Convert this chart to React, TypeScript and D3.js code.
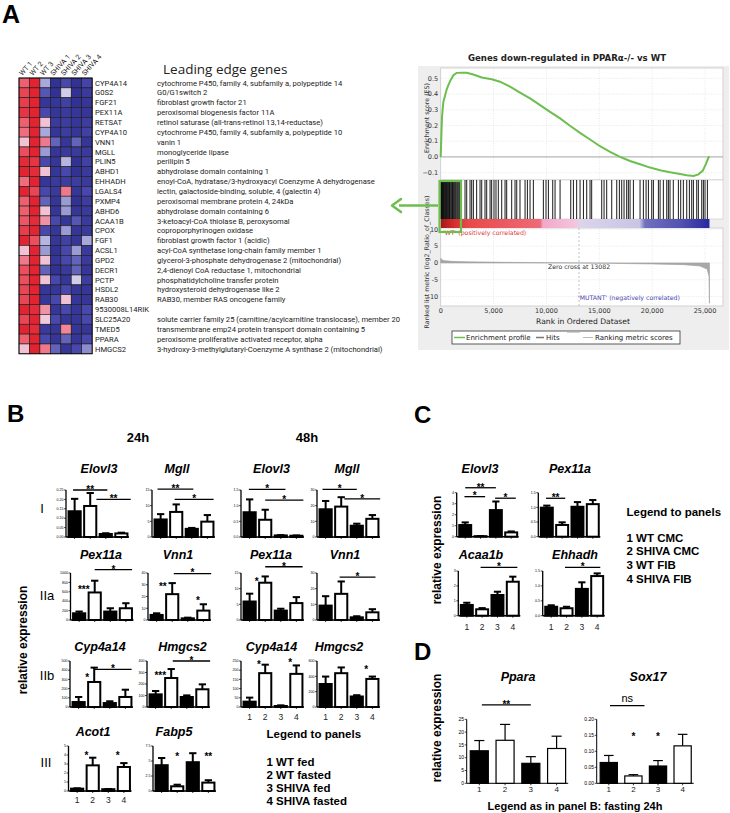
import React from "react";
import * as d3 from "d3";

const SANS = "'Liberation Sans', Arial, sans-serif";
const HEAT_FONT = "Roboto, 'Open Sans', sans-serif";
const GREEN = "#6cbf4e";

// ---------------- Panel A: heatmap ----------------
const samples = ["WT 1", "WT 2", "WT 3", "SHIVA 1", "SHIVA 2", "SHIVA 3", "SHIVA 4"];
const genes = [
  "CYP4A14", "G0S2", "FGF21", "PEX11A", "RETSAT", "CYP4A10", "VNN1", "MGLL", "PLIN5", "ABHD1",
  "EHHADH", "LGALS4", "PXMP4", "ABHD6", "ACAA1B", "CPOX", "FGF1", "ACSL1", "GPD2", "DECR1",
  "PCTP", "HSDL2", "RAB30", "9530008L14RIK", "SLC25A20", "TMED5", "PPARA", "HMGCS2",
];
const geneDescriptions = [
  "cytochrome P450, family 4, subfamily a, polypeptide 14",
  "G0/G1switch 2",
  "fibroblast growth factor 21",
  "peroxisomal biogenesis factor 11A",
  "retinol saturase (all-trans-retinol 13,14-reductase)",
  "cytochrome P450, family 4, subfamily a, polypeptide 10",
  "vanin 1",
  "monoglyceride lipase",
  "perilipin 5",
  "abhydrolase domain containing 1",
  "enoyl-CoA, hydratase/3-hydroxyacyl Coenzyme A dehydrogenase",
  "lectin, galactoside-binding, soluble, 4 (galectin 4)",
  "peroxisomal membrane protein 4, 24kDa",
  "abhydrolase domain containing 6",
  "3-ketoacyl-CoA thiolase B, peroxysomal",
  "coproporphyrinogen oxidase",
  "fibroblast growth factor 1 (acidic)",
  "acyl-CoA synthetase long-chain family member 1",
  "glycerol-3-phosphate dehydrogenase 2 (mitochondrial)",
  "2,4-dienoyl CoA reductase 1, mitochondrial",
  "phosphatidylcholine transfer protein",
  "hydroxysteroid dehydrogenase like 2",
  "RAB30, member RAS oncogene family",
  "",
  "solute carrier family 25 (carnitine/acylcarnitine translocase), member 20",
  "transmembrane emp24 protein transport domain containing 5",
  "peroxisome proliferative activated receptor, alpha",
  "3-hydroxy-3-methylglutaryl-Coenzyme A synthase 2 (mitochondrial)",
];
const heatValues = [
  [0.6, 0.95, -0.25, -0.9, -0.6, -0.9, -0.65],
  [0.75, 0.95, -0.55, -0.9, -0.1, -0.9, -0.8],
  [0.8, 0.95, -0.85, -0.85, -0.7, -0.9, -0.85],
  [0.85, 0.95, -0.6, -0.85, -0.8, -0.85, -0.85],
  [0.6, 0.95, 0.2, -0.8, -0.75, -0.85, -0.75],
  [0.55, 0.95, -0.25, -0.85, -0.75, -0.85, -0.7],
  [0.2, 0.95, 0.5, -0.5, -0.85, -0.5, -0.85],
  [0.7, 0.95, -0.3, -0.85, -0.8, -0.8, -0.8],
  [0.9, 0.85, -0.6, -0.85, -0.2, -0.9, -0.7],
  [0.95, 0.9, 0.2, -0.85, -0.6, -0.9, -0.8],
  [0.55, 0.95, -0.85, -0.8, -0.75, -0.75, -0.8],
  [0.95, 0.75, -0.6, -0.8, 0.5, -0.85, -0.6],
  [0.6, 0.95, -0.5, -0.85, -0.3, -0.9, -0.75],
  [0.6, 0.95, 0.2, -0.85, -0.3, -0.85, -0.8],
  [0.65, 0.9, 0.4, -0.6, -0.85, -0.55, -0.8],
  [0.8, 0.95, -0.6, -0.85, -0.3, -0.85, -0.8],
  [0.95, 0.7, -0.2, -0.85, -0.7, -0.85, -0.25],
  [0.2, 0.95, -0.3, -0.9, -0.6, -0.3, -0.8],
  [0.5, 0.95, 0.2, -0.85, -0.6, -0.5, -0.8],
  [0.7, 0.95, -0.5, -0.9, -0.8, -0.5, -0.85],
  [0.7, 0.95, 0.2, -0.6, -0.85, -0.1, -0.75],
  [0.75, 0.95, -0.85, -0.85, -0.6, -0.85, -0.85],
  [0.75, 0.95, -0.85, -0.6, 0.2, -0.85, -0.85],
  [0.95, 0.9, 0.4, -0.85, -0.6, -0.85, -0.6],
  [0.75, 0.95, 0.15, -0.6, -0.85, -0.85, -0.6],
  [0.95, 0.9, -0.8, -0.85, 0.45, -0.85, -0.85],
  [0.6, 0.95, -0.6, -0.85, -0.5, -0.85, -0.6],
  [0.2, 0.95, 0.5, -0.5, -0.85, -0.6, -0.35],
];

// ---------------- Panel A: GSEA ----------------
const esRanks = [0, 60, 125, 250, 410, 570, 725, 945, 1200, 1510, 1990, 2460, 3090, 3880, 4820, 5610, 6560, 7500, 8450, 9400, 10340, 11290, 12230, 13180, 14125, 15070, 16020, 16960, 17910, 18855, 19800, 20750, 21690, 22640, 23270, 23900, 24370, 24780, 25100, 25320, 25410];
const esScores = [0, 0.13, 0.255, 0.35, 0.39, 0.43, 0.457, 0.49, 0.52, 0.535, 0.536, 0.536, 0.525, 0.506, 0.494, 0.479, 0.447, 0.409, 0.372, 0.33, 0.287, 0.245, 0.198, 0.153, 0.111, 0.068, 0.032, 0.0, -0.026, -0.047, -0.068, -0.085, -0.098, -0.109, -0.117, -0.121, -0.111, -0.089, -0.043, -0.004, 0.004];
const hitRanks = [
  20, 60, 110, 150, 200, 260, 320, 380, 440, 500, 560, 630, 700, 760, 830, 900, 980, 1050, 1120, 1200, 1290, 1380, 1460, 1550, 1630, 1720, 1800, 1880,
  2300, 2460, 2775, 2930, 3090, 3400, 3720, 3880, 4190, 4350, 4670, 4820, 5040, 5230, 5450, 5770, 6085, 6240, 6715, 7030, 7190, 7500, 7980, 8200, 8450, 8765,
  9710, 9960, 10185, 10595, 10815, 11290, 12300, 12550, 12860, 13180, 13500, 13810, 14125, 14280, 15230, 15450, 15700, 16175, 16650, 16900, 17120, 17340,
  17590, 17750, 17910, 18225, 18855, 19170, 19425, 19645, 19960, 20115, 20590, 20750, 21060, 21380, 21535, 21690, 22000, 22480, 22700, 22950, 23270, 23520,
  23740, 23900, 24215, 24370, 24690, 24845, 25000, 25225,
];
const metricRanks = [0, 100, 300, 1000, 2500, 6000, 10000, 13082, 16000, 20000, 23000, 24500, 25200, 25380, 25420];
const metricScores = [1.4, 1.0, 0.7, 0.5, 0.35, 0.2, 0.08, 0, -0.1, -0.3, -0.5, -0.9, -1.8, -4, -12];
const esTicks = [0.5, 0.4, 0.3, 0.2, 0.1, 0.0, -0.1];
const rankTicks = [0, 5000, 10000, 15000, 20000, 25000];
const metricTicks = [10, 5, 0, -5, -10];
const zeroCross = 13082;
const colorBarOffsets = [0, 0.04, 0.1, 0.37, 0.38, 0.5, 0.52, 0.74, 0.76, 0.9, 1];
const colorBarColors = ["#a01818", "#d02828", "#e84848", "#ee6a78", "#f2a8c8", "#f4c4dc", "#dcd4ec", "#c8c4e4", "#7070c0", "#5050b0", "#2828a0"];

// ---------------- Panel B data ----------------
const groups = ["1", "2", "3", "4"];
type Bracket = { from: number; to: number; level: number; label: string };
type Star = { at: number; level: number; label: string };

const bElovl3_24Mean = [0.137, 0.165, 0.016, 0.019];
const bElovl3_24Err = [0.066, 0.069, 0.004, 0.004];
const bElovl3_24Br: Bracket[] = [{ from: 0.9, to: 3.1, level: 0.25, label: "**" }, { from: 2.4, to: 4.6, level: 0.2, label: "**" }];
const bMgll_24Mean = [5.6, 8.0, 2.6, 4.9];
const bMgll_24Err = [1.7, 2.4, 0.3, 2.1];
const bMgll_24Br: Bracket[] = [{ from: 0.8, to: 3.1, level: 15.3, label: "**" }, { from: 1.9, to: 4.4, level: 12, label: "*" }];
const bElovl3_48Mean = [0.79, 0.55, 0.05, 0.04];
const bElovl3_48Err = [0.41, 0.32, 0.01, 0.01];
const bElovl3_48Br: Bracket[] = [{ from: 0.95, to: 3.3, level: 1.52, label: "*" }, { from: 2.0, to: 4.45, level: 1.18, label: "*" }];
const bMgll_48Mean = [17.7, 19.4, 7.2, 11.6];
const bMgll_48Err = [5.3, 6.0, 1.3, 2.4];
const bMgll_48Br: Bracket[] = [{ from: 0.8, to: 3.0, level: 30.4, label: "*" }, { from: 2.2, to: 4.5, level: 24.3, label: "*" }];

const bPex11a_24Mean = [143, 586, 180, 250];
const bPex11a_24Err = [37, 250, 70, 107];
const bPex11a_24Br: Bracket[] = [{ from: 2.0, to: 4.4, level: 1070, label: "*" }];
const bPex11a_24St: Star[] = [{ at: 1.3, level: 660, label: "***" }];
const bVnn1_24Mean = [4.3, 22, 1.4, 8];
const bVnn1_24Err = [1.4, 9.4, 0.6, 5.4];
const bVnn1_24Br: Bracket[] = [{ from: 2.1, to: 4.5, level: 39.5, label: "*" }];
const bVnn1_24St: Star[] = [{ at: 1.4, level: 29, label: "**" }, { at: 3.65, level: 17, label: "*" }];
const bPex11a_48Mean = [5.9, 11.9, 3.0, 5.4];
const bPex11a_48Err = [2.5, 2.0, 0.6, 1.9];
const bPex11a_48Br: Bracket[] = [{ from: 2.0, to: 4.4, level: 17, label: "*" }];
const bPex11a_48St: Star[] = [{ at: 1.45, level: 12.6, label: "*" }];
const bVnn1_48Mean = [9.2, 16.7, 1.7, 4.9];
const bVnn1_48Err = [6.0, 7.9, 0.7, 2.0];
const bVnn1_48Br: Bracket[] = [{ from: 1.9, to: 4.2, level: 27.4, label: "*" }];

const bCyp4a14_24Mean = [54, 272, 43, 109];
const bCyp4a14_24Err = [55, 156, 19, 79];
const bCyp4a14_24Br: Bracket[] = [{ from: 2.0, to: 4.4, level: 410, label: "*" }];
const bCyp4a14_24St: Star[] = [{ at: 1.55, level: 326, label: "*" }];
const bHmgcs2_24Mean = [110, 252, 87, 154];
const bHmgcs2_24Err = [29, 78, 14, 43];
const bHmgcs2_24Br: Bracket[] = [{ from: 2.1, to: 4.5, level: 400, label: "*" }];
const bHmgcs2_24St: Star[] = [{ at: 1.3, level: 281, label: "***" }];
const bCyp4a14_48Mean = [29, 184, 5.5, 180];
const bCyp4a14_48Err = [22, 46, 3.5, 46];
const bCyp4a14_48St: Star[] = [{ at: 1.6, level: 235, label: "*" }, { at: 3.6, level: 243, label: "*" }];
const bHmgcs2_48Mean = [300, 441, 137, 366];
const bHmgcs2_48Err = [97, 75, 17, 31];
const bHmgcs2_48St: Star[] = [{ at: 3.6, level: 500, label: "*" }];

const bAcot1Mean = [0.26, 2.85, 0.2, 2.67];
const bAcot1Err = [0.04, 0.85, 0.02, 0.43];
const bAcot1St: Star[] = [{ at: 1.6, level: 4.0, label: "*" }, { at: 3.6, level: 4.0, label: "*" }];
const bFabp5Mean = [4.3, 0.78, 4.8, 1.4];
const bFabp5Err = [1.2, 0.27, 1.5, 0.4];
const bFabp5St: Star[] = [{ at: 2.0, level: 5.9, label: "*" }, { at: 4.0, level: 5.9, label: "**" }];

const bLegend = ["1 WT fed", "2 WT fasted", "3 SHIVA fed", "4 SHIVA fasted"];

// ---------------- Panel C data ----------------
const cElovl3Mean = [1.06, 0.05, 2.42, 0.39];
const cElovl3Err = [0.24, 0.01, 0.78, 0.09];
const cElovl3Br: Bracket[] = [{ from: 1, to: 3, level: 4.45, label: "**" }, { from: 0.95, to: 2.3, level: 3.64, label: "*" }, { from: 2.95, to: 4.3, level: 3.5, label: "*" }];
const cPex11aMean = [0.99, 0.4, 1.02, 1.11];
const cPex11aErr = [0.07, 0.09, 0.16, 0.14];
const cPex11aBr: Bracket[] = [{ from: 0.95, to: 2.2, level: 1.31, label: "**" }];
const cAcaa1bMean = [0.72, 0.43, 1.39, 2.28];
const cAcaa1bErr = [0.15, 0.08, 0.22, 0.34];
const cAcaa1bBr: Bracket[] = [{ from: 1.9, to: 4.3, level: 3.25, label: "*" }];
const cEhhadhMean = [0.3, 0.25, 0.9, 1.33];
const cEhhadhErr = [0.05, 0.05, 0.22, 0.09];
const cEhhadhBr: Bracket[] = [{ from: 1.9, to: 4.2, level: 1.62, label: "*" }];
const cLegend = ["1 WT CMC", "2 SHIVA CMC", "3 WT FIB", "4 SHIVA FIB"];

// ---------------- Panel D data ----------------
const dPparaMean = [12.7, 16.8, 7.8, 13.6];
const dPparaErr = [4.0, 6.2, 2.6, 4.8];
const dPparaBr: Bracket[] = [{ from: 1.1, to: 3.0, level: 30.6, label: "**" }];
const dSox17Mean = [0.065, 0.023, 0.054, 0.117];
const dSox17Err = [0.022, 0.004, 0.017, 0.036];
const dSox17Br: Bracket[] = [{ from: 1.05, to: 2.45, level: 0.2425, label: "ns" }];
const dSox17St: Star[] = [{ at: 2, level: 0.148, label: "*" }, { at: 3, level: 0.148, label: "*" }];

// ---------------- components ----------------
type PlotProps = {
  x: number; top: number; bottom: number; width: number;
  ymax: number; step: number; mean: number[]; err: number[];
  brackets?: Bracket[]; stars?: Star[]; thin?: boolean;
  xLabelY?: number; tickFont?: number;
};

function BarPlot(p: PlotProps) {
  const thin = !!p.thin;
  const band = d3.scaleBand<string>().domain(groups).range([p.x + 1, p.x + p.width])
    .paddingInner(thin ? 0.3 : 0.22).paddingOuter(0.1);
  const y = d3.scaleLinear().domain([0, p.ymax]).range([p.bottom, p.top]);
  const ticks = d3.range(0, p.ymax + p.step / 2, p.step);
  const fmt = p.step < 0.1 ? d3.format(".2f") : p.step < 1 ? d3.format(".1f") : d3.format("~g");
  const bw = band.bandwidth();
  const center = (g: string) => (band(g) as number) + bw / 2;
  const pos = d3.scaleLinear().domain([1, 4]).range([center("1"), center("4")]);
  const sw = thin ? 1.2 : 2;
  const tf = p.tickFont ?? 3.6;
  const starSize = 10;
  return (
    <g fontFamily={SANS}>
      <line x1={p.x} x2={p.x} y1={p.top} y2={p.bottom} stroke="#000" strokeWidth={thin ? 1 : 1.3} />
      {ticks.map((t) => (
        <g key={"t" + t}>
          <line x1={p.x - 2} x2={p.x} y1={y(t)} y2={y(t)} stroke="#000" strokeWidth={0.7} />
          <text x={p.x - 2.6} y={y(t) + tf * 0.35} fontSize={tf} textAnchor="end">{fmt(t)}</text>
        </g>
      ))}
      <line x1={p.x} x2={p.x + p.width} y1={p.bottom} y2={p.bottom} stroke="#000" strokeWidth={thin ? 1 : 1.5} />
      {groups.map((g) => (
        <line key={"xt" + g} x1={center(g)} x2={center(g)} y1={p.bottom} y2={p.bottom + 2} stroke="#000" strokeWidth={0.8} />
      ))}
      {groups.map((g, i) => {
        const yt = y(p.mean[i]);
        const ye = y(p.mean[i] + p.err[i]);
        const c = center(g);
        const cw = bw * (thin ? 0.28 : 0.3);
        return (
          <g key={"b" + g}>
            <line x1={c} x2={c} y1={yt} y2={ye} stroke="#000" strokeWidth={sw} />
            <line x1={c - cw} x2={c + cw} y1={ye} y2={ye} stroke="#000" strokeWidth={sw} />
            <rect x={band(g)} y={yt} width={bw} height={Math.max(0.5, p.bottom - yt)}
              fill={i % 2 === 0 ? "#000" : "#fff"} stroke="#000" strokeWidth={sw} />
          </g>
        );
      })}
      {(p.brackets || []).map((b, i) => {
        const ly = y(b.level);
        const isNs = b.label === "ns";
        return (
          <g key={"br" + i}>
            <line x1={pos(b.from)} x2={pos(b.to)} y1={ly} y2={ly} stroke="#000" strokeWidth={thin ? 1.2 : 1.3} />
            <text x={(pos(b.from) + pos(b.to)) / 2} y={isNs ? ly - 4 : ly + 2.8} fontSize={isNs ? 11 : starSize}
              fontWeight={isNs ? "normal" : "bold"} textAnchor="middle">{b.label}</text>
          </g>
        );
      })}
      {(p.stars || []).map((s, i) => (
        <text key={"st" + i} x={pos(s.at)} y={y(s.level) + 4} fontSize={starSize} fontWeight="bold" textAnchor="middle">{s.label}</text>
      ))}
      {p.xLabelY !== undefined && groups.map((g) => (
        <text key={"xl" + g} x={center(g)} y={p.xLabelY} fontSize={thin ? 8 : 8.5} textAnchor="middle" fill="#222">{g}</text>
      ))}
    </g>
  );
}

function Heatmap() {
  const x0 = 19, y0 = 78, cw = 10.45, ch = 9.85;
  const xs = d3.scaleBand<string>().domain(samples).range([x0, x0 + samples.length * cw]);
  const ys = d3.scaleBand<string>().domain(genes).range([y0, y0 + genes.length * ch]);
  const color = d3.scaleLinear<string>()
    .domain([-1, -0.6, -0.25, 0, 0.25, 0.6, 1])
    .range(["#2b2b8c", "#4848ac", "#a8a8dc", "#ece6f2", "#f2b8cc", "#ee6070", "#e01a28"]);
  return (
    <g fontFamily={HEAT_FONT}>
      {samples.map((s) => (
        <text key={s} transform={`translate(${(xs(s) as number) + cw / 2 - 2},${y0 - 2}) rotate(-48)`} fontSize={7} fill="#222">{s}</text>
      ))}
      {genes.map((g, r) => samples.map((s, c) => (
        <rect key={g + s} x={xs(s)} y={ys(g)} width={cw} height={ch} fill={color(heatValues[r][c])} stroke="#1a1a1a" strokeWidth={0.6} />
      )))}
      <rect x={x0} y={y0} width={samples.length * cw} height={genes.length * ch} fill="none" stroke="#000" strokeWidth={0.8} />
      {genes.map((g, r) => (
        <g key={"lab" + g}>
          <text x={95} y={(ys(g) as number) + ch / 2 + 2.7} fontSize={7.6} fill="#222">{g}</text>
          <text x={157} y={(ys(g) as number) + ch / 2 + 2.7} fontSize={7.6} fill="#222">{geneDescriptions[r]}</text>
        </g>
      ))}
      <text x={163} y={74} fontSize={13.5} fontFamily="'Open Sans', sans-serif" fill="#222">Leading edge genes</text>
    </g>
  );
}

function Gsea() {
  const left = 440.7, right = 723;
  const esTop = 68, esBot = 180, hitBot = 219, barBot = 228, metBot = 306;
  const xr = d3.scaleLinear().domain([0, 26700]).range([left, right]);
  const yes = d3.scaleLinear().domain([-0.147, 0.566]).range([esBot, esTop]);
  const ym = d3.scaleLinear().domain([-12.8, 10.4]).range([metBot, barBot]);
  const esLine = d3.line<number>().x((_, i) => xr(esRanks[i])).y((v) => yes(v))(esScores) || "";
  const metArea = d3.area<number>().x((_, i) => xr(metricRanks[i])).y0(ym(0)).y1((v) => ym(v))(metricScores) || "";
  const fs = 6.5;
  const f = "'DejaVu Sans', sans-serif";
  return (
    <g fontFamily={f}>
      <defs>
        <linearGradient id="cbar" x1="0" x2="1" y1="0" y2="0">
          {colorBarOffsets.map((o, i) => <stop key={i} offset={o} stopColor={colorBarColors[i]} />)}
        </linearGradient>
      </defs>
      <rect x={418} y={66} width={311} height={284} fill="#eeeeee" />
      <text x={567} y={61} fontSize={8.6} fontWeight="bold" textAnchor="middle" fill="#222">Genes down-regulated in PPARα-/- vs WT</text>
      <rect x={left} y={esTop} width={right - left} height={esBot - esTop} fill="#fff" stroke="#c8c8c8" strokeWidth={0.8} />
      {rankTicks.slice(1).map((t) => (
        <line key={"vg" + t} x1={xr(t)} x2={xr(t)} y1={esTop} y2={esBot} stroke="#d8d8d8" strokeWidth={0.6} strokeDasharray="1,1.5" />
      ))}
      {esTicks.map((t) => (
        <g key={"es" + t}>
          <line x1={left} x2={right} y1={yes(t)} y2={yes(t)} stroke={t === 0 ? "#9a9a9a" : "#d8d8d8"} strokeWidth={t === 0 ? 0.9 : 0.6} strokeDasharray={t === 0 ? undefined : "1,1.5"} />
          <text x={left - 2.5} y={yes(t) + 2.2} fontSize={fs} textAnchor="end" fill="#333">{d3.format(".1f")(t)}</text>
        </g>
      ))}
      <path d={esLine} fill="none" stroke={GREEN} strokeWidth={2} />
      <rect x={left} y={esBot} width={right - left} height={hitBot - esBot} fill="#fff" stroke="#c8c8c8" strokeWidth={0.6} />
      {hitRanks.map((h, i) => (
        <line key={"h" + i} x1={xr(h)} x2={xr(h)} y1={esBot} y2={hitBot} stroke="#000" strokeWidth={0.9} />
      ))}
      <rect x={left} y={barBot} width={right - left} height={metBot - barBot} fill="#fff" stroke="#c8c8c8" strokeWidth={0.8} />
      {rankTicks.slice(1).map((t) => (
        <line key={"vg2" + t} x1={xr(t)} x2={xr(t)} y1={barBot} y2={metBot} stroke="#d8d8d8" strokeWidth={0.6} strokeDasharray="1,1.5" />
      ))}
      {metricTicks.map((t) => (
        <g key={"mt" + t}>
          <line x1={left} x2={right} y1={ym(t)} y2={ym(t)} stroke="#d8d8d8" strokeWidth={0.6} strokeDasharray="1,1.5" />
          <text x={left - 2.5} y={ym(t) + 2.2} fontSize={fs} textAnchor="end" fill="#333">{t}</text>
        </g>
      ))}
      <rect x={left} y={hitBot} width={xr(25420) - left} height={barBot - hitBot} fill="url(#cbar)" />
      <path d={metArea} fill="#a8a8a8" stroke="#a0a0a0" strokeWidth={0.6} />
      <line x1={xr(zeroCross)} x2={xr(zeroCross)} y1={barBot} y2={metBot} stroke="#aaa" strokeWidth={0.7} strokeDasharray="2,2" />
      <text x={443} y={235} fontSize={6.2} fill="#e03838">'WT' (positively correlated)</text>
      <text x={548} y={269} fontSize={6.2} fill="#333">Zero cross at 13082</text>
      <text x={578} y={300} fontSize={6.2} fill="#4848b0">'MUTANT' (negatively correlated)</text>
      {rankTicks.map((t) => (
        <text key={"rt" + t} x={xr(t)} y={313} fontSize={fs} textAnchor="middle" fill="#333">{d3.format(",")(t)}</text>
      ))}
      <text x={583} y={324} fontSize={7.6} textAnchor="middle" fill="#222">Rank in Ordered Dataset</text>
      <text transform={`translate(429,118) rotate(-90)`} fontSize={6.3} textAnchor="middle" fill="#333">Enrichment score (ES)</text>
      <text transform={`translate(429,262) rotate(-90)`} fontSize={6.3} textAnchor="middle" fill="#333">Ranked list metric (log2_Ratio_of_Classes)</text>
      <rect x={452} y={331} width={228} height={13} fill="#fff" stroke="#333" strokeWidth={0.8} />
      <line x1={454} x2={465} y1={337.5} y2={337.5} stroke={GREEN} strokeWidth={1.5} />
      <text x={466} y={340} fontSize={7} fill="#222">Enrichment profile</text>
      <line x1={536} x2={544} y1={337.5} y2={337.5} stroke="#777" strokeWidth={1.5} />
      <text x={546} y={340} fontSize={7} fill="#222">Hits</text>
      <line x1={567} x2={580} y1={332.5} y2={332.5} stroke="#bbb" strokeWidth={0.7} />
      <line x1={583} x2={593} y1={337.5} y2={337.5} stroke="#bbb" strokeWidth={1} />
      <text x={595} y={340} fontSize={7} fill="#222">Ranking metric scores</text>
      <rect x={439.5} y={181} width={21.5} height={51} fill="none" stroke={GREEN} strokeWidth={2.2} />
      <line x1={438} x2={399} y1={205.5} y2={205.5} stroke={GREEN} strokeWidth={2.5} />
      <path d="M392,205.5 L401,199 M392,205.5 L401,212" fill="none" stroke={GREEN} strokeWidth={2.5} strokeLinecap="round" />
    </g>
  );
}

const bRows = [
  { top: 490, bottom: 537, titleY: 472.5 },
  { top: 573, bottom: 620, titleY: 558.5 },
  { top: 661, bottom: 707, titleY: 650.5 },
  { top: 746, bottom: 791, titleY: 736 },
];

const bCharts = [
  { title: "Elovl3", tx: 99, x: 66, row: 0, ymax: 0.25, step: 0.05, mean: bElovl3_24Mean, err: bElovl3_24Err, brackets: bElovl3_24Br, stars: [] as Star[] },
  { title: "Mgll", tx: 177, x: 152, row: 0, ymax: 15, step: 5, mean: bMgll_24Mean, err: bMgll_24Err, brackets: bMgll_24Br, stars: [] as Star[] },
  { title: "Elovl3", tx: 271.5, x: 241, row: 0, ymax: 1.5, step: 0.5, mean: bElovl3_48Mean, err: bElovl3_48Err, brackets: bElovl3_48Br, stars: [] as Star[] },
  { title: "Mgll", tx: 347, x: 317, row: 0, ymax: 30, step: 10, mean: bMgll_48Mean, err: bMgll_48Err, brackets: bMgll_48Br, stars: [] as Star[] },
  { title: "Pex11a", tx: 101, x: 70.5, row: 1, ymax: 1000, step: 200, mean: bPex11a_24Mean, err: bPex11a_24Err, brackets: bPex11a_24Br, stars: bPex11a_24St },
  { title: "Vnn1", tx: 178, x: 148, row: 1, ymax: 40, step: 10, mean: bVnn1_24Mean, err: bVnn1_24Err, brackets: bVnn1_24Br, stars: bVnn1_24St },
  { title: "Pex11a", tx: 271, x: 241, row: 1, ymax: 15, step: 5, mean: bPex11a_48Mean, err: bPex11a_48Err, brackets: bPex11a_48Br, stars: bPex11a_48St },
  { title: "Vnn1", tx: 345, x: 317, row: 1, ymax: 30, step: 10, mean: bVnn1_48Mean, err: bVnn1_48Err, brackets: bVnn1_48Br, stars: [] as Star[] },
  { title: "Cyp4a14", tx: 100, x: 70, row: 2, ymax: 500, step: 100, mean: bCyp4a14_24Mean, err: bCyp4a14_24Err, brackets: bCyp4a14_24Br, stars: bCyp4a14_24St },
  { title: "Hmgcs2", tx: 182.5, x: 147, row: 2, ymax: 400, step: 100, mean: bHmgcs2_24Mean, err: bHmgcs2_24Err, brackets: bHmgcs2_24Br, stars: bHmgcs2_24St },
  { title: "Cyp4a14", tx: 271.5, x: 241, row: 2, ymax: 250, step: 50, mean: bCyp4a14_48Mean, err: bCyp4a14_48Err, brackets: [] as Bracket[], stars: bCyp4a14_48St, xl: 720 },
  { title: "Hmgcs2", tx: 339, x: 317, row: 2, ymax: 600, step: 200, mean: bHmgcs2_48Mean, err: bHmgcs2_48Err, brackets: [] as Bracket[], stars: bHmgcs2_48St, xl: 720 },
  { title: "Acot1", tx: 93, x: 68.5, row: 3, ymax: 5, step: 1, mean: bAcot1Mean, err: bAcot1Err, brackets: [] as Bracket[], stars: bAcot1St, xl: 803 },
  { title: "Fabp5", tx: 174, x: 153, row: 3, ymax: 7.5, step: 2.5, mean: bFabp5Mean, err: bFabp5Err, brackets: [] as Bracket[], stars: bFabp5St },
];

const cCharts = [
  { title: "Elovl3", tx: 480, x: 456.7, top: 492.7, bottom: 536.7, ymax: 4, step: 1, mean: cElovl3Mean, err: cElovl3Err, brackets: cElovl3Br },
  { title: "Pex11a", tx: 570, x: 538.3, top: 492.7, bottom: 536.7, ymax: 1.5, step: 0.5, mean: cPex11aMean, err: cPex11aErr, brackets: cPex11aBr },
  { title: "Acaa1b", tx: 481, x: 458.3, top: 571, bottom: 615.7, ymax: 3, step: 1, mean: cAcaa1bMean, err: cAcaa1bErr, brackets: cAcaa1bBr, xl: 630 },
  { title: "Ehhadh", tx: 575, x: 542.7, top: 571, bottom: 615.7, ymax: 1.5, step: 0.5, mean: cEhhadhMean, err: cEhhadhErr, brackets: cEhhadhBr, xl: 630 },
];

export default function App() {
  const bold = { fontFamily: SANS, fontWeight: "bold" as const };
  return (
    <svg width={730} height={813} style={{ position: "absolute", left: 0, top: 0, background: "#fff" }}>
      <rect width={730} height={813} fill="#fff" />
      <text x={2} y={23} fontSize={25} {...bold}>A</text>
      <Heatmap />
      <Gsea />

      <text x={7} y={422} fontSize={24} {...bold}>B</text>
      <text x={138} y={441.5} fontSize={13} textAnchor="middle" {...bold}>24h</text>
      <text x={307} y={441.5} fontSize={13} textAnchor="middle" {...bold}>48h</text>
      {["I", "IIa", "IIb", "III"].map((r, i) => (
        <text key={r} x={[42, 47, 47, 46][i]} y={[513, 600, 680, 767][i]} fontSize={13} fontFamily={SANS} fill="#000" textAnchor="middle">{r}</text>
      ))}
      <text transform="translate(27,640) rotate(-90)" fontSize={12} textAnchor="middle" {...bold}>relative expression</text>
      {bCharts.map((c, i) => (
        <g key={"bc" + i}>
          <text x={c.tx} y={bRows[c.row].titleY} fontSize={12.5} fontStyle="italic" textAnchor="middle" {...bold}>{c.title}</text>
          <BarPlot x={c.x} top={bRows[c.row].top} bottom={bRows[c.row].bottom} width={63} ymax={c.ymax} step={c.step}
            mean={c.mean} err={c.err} brackets={c.brackets} stars={c.stars} xLabelY={(c as any).xl} />
        </g>
      ))}
      <text x={266.5} y={738} fontSize={11.5} {...bold}>Legend to panels</text>
      {bLegend.map((t, i) => (
        <text key={t} x={266.5} y={765.5 + i * 13} fontSize={11.5} {...bold}>{t}</text>
      ))}

      <text x={414} y={423} fontSize={24} {...bold}>C</text>
      <text transform="translate(441,550) rotate(-90)" fontSize={12} textAnchor="middle" {...bold}>relative expression</text>
      {cCharts.map((c, i) => (
        <g key={"cc" + i}>
          <text x={c.tx} y={i < 2 ? 472.5 : 558.5} fontSize={12.5} fontStyle="italic" textAnchor="middle" {...bold}>{c.title}</text>
          <BarPlot x={c.x} top={c.top} bottom={c.bottom} width={62} ymax={c.ymax} step={c.step}
            mean={c.mean} err={c.err} brackets={c.brackets} xLabelY={(c as any).xl} />
        </g>
      ))}
      <text x={626.5} y={516} fontSize={11.5} {...bold}>Legend to panels</text>
      {cLegend.map((t, i) => (
        <text key={t} x={626.5} y={541.5 + i * 13.7} fontSize={11.5} {...bold}>{t}</text>
      ))}

      <text x={414} y={660} fontSize={24} {...bold}>D</text>
      <text transform="translate(441,728) rotate(-90)" fontSize={12} textAnchor="middle" {...bold}>relative expression</text>
      <text x={518} y={681} fontSize={12.5} fontStyle="italic" textAnchor="middle" {...bold}>Ppara</text>
      <text x={648} y={681} fontSize={12.5} fontStyle="italic" textAnchor="middle" {...bold}>Sox17</text>
      <BarPlot x={466.7} top={719.3} bottom={783.3} width={101.5} ymax={25} step={5} mean={dPparaMean} err={dPparaErr}
        brackets={dPparaBr} thin xLabelY={792} tickFont={5} />
      <BarPlot x={596.7} top={719.3} bottom={783.3} width={97} ymax={0.2} step={0.05} mean={dSox17Mean} err={dSox17Err}
        brackets={dSox17Br} stars={dSox17St} thin xLabelY={792} tickFont={5} />
      <text x={575} y={810} fontSize={11} textAnchor="middle" {...bold}>Legend as in panel B: fasting 24h</text>
    </svg>
  );
}
